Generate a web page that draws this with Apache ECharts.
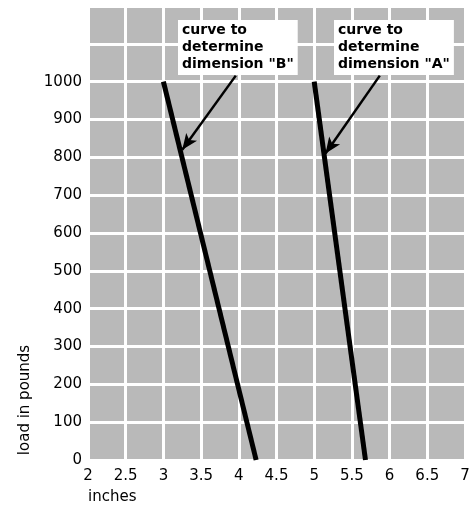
<!DOCTYPE html>
<html>
<head>
<meta charset="utf-8">
<script src="https://cdn.jsdelivr.net/npm/echarts@6/dist/echarts.min.js"></script>
<style>
  html, body { margin: 0; padding: 0; background: #fff; }
  #chart { width: 475px; height: 508px; }
</style>
</head>
<body>
<div id="chart"></div>
<script>
// load (pounds) at the two ends of each curve
const loads = [0, 1000];
// inches at those loads
const curveB = [4.23, 3.0];
const curveA = [5.68, 5.0];
// arrows from the captions to the curves: [inches, pounds]
const arrowB = [[3.96, 1016], [3.25, 820]];
const arrowA = [[5.87, 1016], [5.15, 810]];

const FONT = 'DejaVu Sans';

const chart = echarts.init(document.getElementById('chart'));

const toPoints = xs => loads.map((l, i) => [xs[i], l]);

const arrowMark = pts => ({
  silent: true,
  symbol: ['none', 'arrow'],
  symbolSize: [10, 16],
  lineStyle: { color: '#000', width: 2.5, type: 'solid' },
  label: { show: false },
  data: [[{ coord: pts[0] }, { coord: pts[1] }]]
});

const option = {
  animation: false,
  grid: {
    left: 88, right: 10, top: 6, bottom: 48,
    show: true,
    backgroundColor: '#b9b9b9',
    borderWidth: 0
  },
  xAxis: {
    type: 'value',
    min: 2, max: 7, interval: 0.5,
    axisLine: { show: false },
    axisTick: { show: false },
    axisLabel: { color: '#000', fontFamily: FONT, fontSize: 15, margin: 9 },
    splitLine: { lineStyle: { color: '#fff', width: 3 } }
  },
  yAxis: {
    type: 'value',
    min: 0, max: 1200, interval: 100,
    axisLine: { show: false },
    axisTick: { show: false },
    axisLabel: {
      color: '#000', fontFamily: FONT, fontSize: 15, margin: 6,
      formatter: v => (v > 1000 ? '' : String(v))
    },
    splitLine: { lineStyle: { color: '#fff', width: 3 } }
  },
  series: [
    {
      name: 'B',
      type: 'line',
      data: toPoints(curveB),
      showSymbol: false,
      lineStyle: { color: '#000', width: 5 },
      markLine: arrowMark(arrowB)
    },
    {
      name: 'A',
      type: 'line',
      data: toPoints(curveA),
      showSymbol: false,
      lineStyle: { color: '#000', width: 5 },
      markLine: arrowMark(arrowA)
    }
  ],
  graphic: [
    {
      type: 'text', left: 178, top: 20, z: 100,
      style: {
        text: 'curve to\ndetermine\ndimension "B"',
        font: 'bold 14px "DejaVu Sans"', lineHeight: 17, fill: '#000',
        backgroundColor: '#fff', padding: [2, 4, 2, 4]
      }
    },
    {
      type: 'text', left: 334, top: 20, z: 100,
      style: {
        text: 'curve to\ndetermine\ndimension "A"',
        font: 'bold 14px "DejaVu Sans"', lineHeight: 17, fill: '#000',
        backgroundColor: '#fff', padding: [2, 4, 2, 4]
      }
    },
    {
      type: 'text', x: 25, y: 400, rotation: Math.PI / 2, z: 100,
      style: {
        text: 'load in pounds',
        font: '15px "DejaVu Sans"', fill: '#000',
        align: 'center', verticalAlign: 'middle'
      }
    },
    {
      type: 'text', left: 88, top: 490, z: 100,
      style: {
        text: 'inches',
        font: '15px "DejaVu Sans"', fill: '#000'
      }
    }
  ]
};

chart.setOption(option);
</script>
</body>
</html>
